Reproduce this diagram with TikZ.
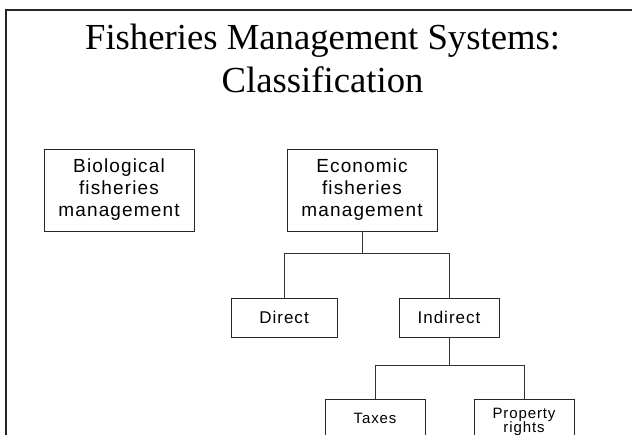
\documentclass[tikz,border=0pt]{standalone}
\usepackage{fontspec}
\setmainfont{Liberation Serif}
\newfontfamily\bxfont[LetterSpace=6]{Liberation Sans}
\begin{document}
\begin{tikzpicture}[x=1pt,y=-1pt,
  box/.style={draw=black!85,line width=0.8pt,inner sep=0pt,align=center,text=black},
  big/.style={box,font=\bxfont\fontsize{19}{22}\selectfont,minimum width=150pt,minimum height=82pt},
  mid/.style={box,font=\bxfont\fontsize{17}{20}\selectfont,minimum height=39pt},
  small/.style={box,font=\bxfont\fontsize{15}{14}\selectfont,minimum width=100pt},
  conn/.style={draw=black!80,line width=0.8pt},
  ttl/.style={font=\fontsize{36.7}{43}\selectfont,anchor=base,inner sep=0pt}]
\useasboundingbox (0,0) rectangle (632,434);
\clip (0,0) rectangle (632,434);
\fill[white] (0,0) rectangle (632,434);
\draw[black!85,line width=1.8pt] (6,440) -- (6,10) -- (640,10);
\node[ttl] (t1) at (322.6,49.3) {Fisheries Management Systems:};
\node[ttl] (t2) at (322.6,92.3) {Classification};
\node[big] (bio) at (119,190) {Biological\\fisheries\\management};
\node[big] (econ) at (362,190) {Economic\\fisheries\\management};
\node[mid,minimum width=106pt] (direct) at (284,317.5) {Direct};
\node[mid,minimum width=100pt] (indirect) at (449,317.5) {Indirect};
\node[small,minimum height=38pt,anchor=north] (taxes) at (375,399) {Taxes};
\node[small,minimum height=44pt,anchor=north] (prop) at (524,399) {Property\\rights};
\draw[conn] (econ.south) -- ++(0,22) -| (direct.north);
\draw[conn] (econ.south) -- ++(0,22) -| (indirect.north);
\draw[conn] (indirect.south) -- ++(0,28) -| (taxes.north);
\draw[conn] (indirect.south) -- ++(0,28) -| (prop.north);
\end{tikzpicture}
\end{document}
